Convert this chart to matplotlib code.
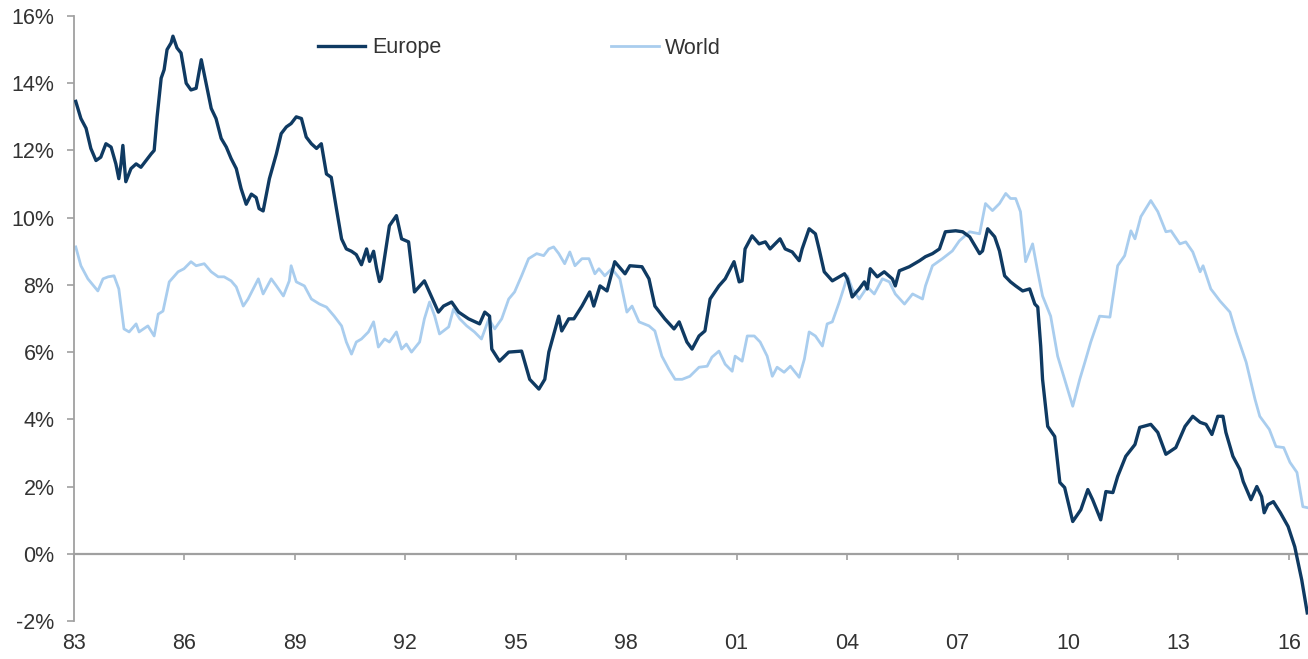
import matplotlib.pyplot as plt
from matplotlib.ticker import FuncFormatter

plt.rcParams["font.family"] = ["Liberation Sans", "DejaVu Sans"]

# values (decimal year, % y/y)
europe_year = [
    1983.05, 1983.19, 1983.33, 1983.46, 1983.60, 1983.73, 1983.82, 1983.87, 1984.01, 1984.14,
    1984.22, 1984.28, 1984.33, 1984.41, 1984.55, 1984.69, 1984.82, 1984.96, 1985.10, 1985.18,
    1985.26, 1985.37, 1985.45, 1985.53, 1985.64, 1985.69, 1985.80, 1985.91, 1986.05, 1986.18,
    1986.32, 1986.46, 1986.59, 1986.73, 1986.86, 1987.00, 1987.14, 1987.27, 1987.41, 1987.54,
    1987.68, 1987.82, 1987.95, 1988.03, 1988.14, 1988.31, 1988.50, 1988.63, 1988.77, 1988.90,
    1989.04, 1989.18, 1989.31, 1989.45, 1989.59, 1989.72, 1989.86, 1989.99, 1990.13, 1990.27,
    1990.40, 1990.54, 1990.67, 1990.81, 1990.95, 1991.03, 1991.14, 1991.22, 1991.30, 1991.35,
    1991.57, 1991.76, 1991.90, 1992.09, 1992.25, 1992.52, 1992.90, 1993.04, 1993.26, 1993.45,
    1993.72, 1994.02, 1994.16, 1994.29, 1994.35, 1994.56, 1994.81, 1995.16, 1995.38, 1995.63,
    1995.79, 1995.90, 1996.17, 1996.25, 1996.44, 1996.58, 1996.80, 1997.01, 1997.12, 1997.29,
    1997.48, 1997.69, 1997.97, 1998.10, 1998.43, 1998.62, 1998.78, 1999.05, 1999.30, 1999.44,
    1999.65, 1999.79, 1999.98, 2000.14, 2000.28, 2000.52, 2000.69, 2000.93, 2001.07, 2001.15,
    2001.23, 2001.42, 2001.61, 2001.78, 2001.91, 2002.18, 2002.32, 2002.51, 2002.70, 2002.78,
    2002.97, 2003.14, 2003.24, 2003.38, 2003.60, 2003.79, 2003.93, 2004.01, 2004.14, 2004.33,
    2004.47, 2004.55, 2004.63, 2004.82, 2005.01, 2005.23, 2005.31, 2005.42, 2005.69, 2005.97,
    2006.13, 2006.32, 2006.51, 2006.67, 2006.95, 2007.14, 2007.33, 2007.60, 2007.68, 2007.82,
    2008.01, 2008.14, 2008.28, 2008.44, 2008.58, 2008.77, 2008.96, 2009.10, 2009.18, 2009.26,
    2009.31, 2009.45, 2009.64, 2009.78, 2009.91, 2010.13, 2010.35, 2010.54, 2010.67, 2010.89,
    2011.03, 2011.22, 2011.35, 2011.57, 2011.82, 2011.95, 2012.25, 2012.44, 2012.66, 2012.93,
    2013.18, 2013.39, 2013.59, 2013.75, 2013.91, 2014.07, 2014.21, 2014.29, 2014.48, 2014.67,
    2014.76, 2014.97, 2015.13, 2015.26, 2015.33, 2015.43, 2015.58, 2015.77, 2015.98, 2016.16,
    2016.35, 2016.50,
]
europe_val = [
    13.46, 12.95, 12.66, 12.06, 11.70, 11.80, 12.06, 12.20, 12.10, 11.60,
    11.16, 11.60, 12.15, 11.07, 11.46, 11.60, 11.50, 11.70, 11.90, 12.00,
    13.00, 14.15, 14.40, 15.00, 15.20, 15.40, 15.05, 14.90, 14.00, 13.80,
    13.85, 14.70, 14.00, 13.25, 12.95, 12.36, 12.10, 11.76, 11.46, 10.87,
    10.40, 10.70, 10.60, 10.27, 10.20, 11.16, 11.90, 12.50, 12.70, 12.80,
    13.00, 12.95, 12.40, 12.20, 12.06, 12.20, 11.30, 11.20, 10.27, 9.37,
    9.07, 9.00, 8.90, 8.60, 9.07, 8.70, 9.00, 8.50, 8.10, 8.18,
    9.76, 10.06, 9.37, 9.28, 7.79, 8.12, 7.19, 7.37, 7.49, 7.19,
    6.99, 6.84, 7.19, 7.07, 6.09, 5.73, 6.00, 6.03, 5.19, 4.90,
    5.19, 6.00, 7.07, 6.63, 6.99, 6.99, 7.37, 7.79, 7.37, 7.97,
    7.82, 8.69, 8.33, 8.57, 8.54, 8.18, 7.37, 6.99, 6.69, 6.90,
    6.30, 6.09, 6.48, 6.63, 7.58, 7.97, 8.18, 8.69, 8.09, 8.12,
    9.07, 9.46, 9.22, 9.28, 9.07, 9.37, 9.07, 8.98, 8.72, 9.07,
    9.67, 9.52, 9.07, 8.39, 8.12, 8.24, 8.33, 8.18, 7.64, 7.88,
    8.09, 7.88, 8.48, 8.24, 8.39, 8.18, 7.97, 8.42, 8.54, 8.72,
    8.84, 8.93, 9.07, 9.58, 9.61, 9.58, 9.43, 8.93, 9.01, 9.67,
    9.43, 9.01, 8.27, 8.09, 7.97, 7.82, 7.88, 7.43, 7.34, 6.18,
    5.19, 3.79, 3.49, 2.12, 1.97, 0.96, 1.31, 1.91, 1.61, 1.01,
    1.85, 1.82, 2.30, 2.90, 3.25, 3.76, 3.85, 3.61, 2.96, 3.16,
    3.79, 4.09, 3.91, 3.85, 3.55, 4.09, 4.09, 3.61, 2.90, 2.51,
    2.15, 1.61, 2.00, 1.70, 1.22, 1.46, 1.55, 1.22, 0.81, 0.21,
    -0.78, -1.76,
]

world_year = [
    1983.05, 1983.19, 1983.38, 1983.65, 1983.79, 1983.93, 1984.09, 1984.22, 1984.36, 1984.50,
    1984.69, 1984.77, 1985.01, 1985.18, 1985.29, 1985.42, 1985.59, 1985.83, 1985.99, 1986.18,
    1986.32, 1986.54, 1986.73, 1986.92, 1987.08, 1987.27, 1987.41, 1987.60, 1987.73, 1988.01,
    1988.14, 1988.36, 1988.50, 1988.69, 1988.85, 1988.90, 1989.04, 1989.26, 1989.45, 1989.67,
    1989.86, 1990.07, 1990.27, 1990.40, 1990.54, 1990.67, 1990.81, 1991.00, 1991.14, 1991.27,
    1991.44, 1991.57, 1991.76, 1991.90, 1992.03, 1992.17, 1992.39, 1992.52, 1992.66, 1992.80,
    1992.93, 1993.18, 1993.31, 1993.48, 1993.67, 1993.88, 1994.07, 1994.27, 1994.43, 1994.62,
    1994.81, 1994.97, 1995.16, 1995.35, 1995.57, 1995.76, 1995.90, 1996.03, 1996.17, 1996.33,
    1996.47, 1996.61, 1996.80, 1996.99, 1997.15, 1997.26, 1997.42, 1997.61, 1997.83, 1998.02,
    1998.16, 1998.35, 1998.62, 1998.78, 1998.97, 1999.16, 1999.33, 1999.52, 1999.73, 1999.98,
    2000.20, 2000.33, 2000.52, 2000.69, 2000.88, 2000.96, 2001.15, 2001.29, 2001.48, 2001.64,
    2001.83, 2001.97, 2002.10, 2002.29, 2002.46, 2002.70, 2002.84, 2002.97, 2003.14, 2003.33,
    2003.46, 2003.60, 2003.79, 2003.93, 2004.01, 2004.14, 2004.33, 2004.55, 2004.74, 2004.96,
    2005.15, 2005.31, 2005.56, 2005.78, 2006.05, 2006.13, 2006.32, 2006.59, 2006.86, 2007.05,
    2007.33, 2007.60, 2007.76, 2007.95, 2008.14, 2008.31, 2008.44, 2008.58, 2008.71, 2008.85,
    2009.04, 2009.18, 2009.31, 2009.53, 2009.72, 2009.91, 2010.13, 2010.32, 2010.46, 2010.62,
    2010.86, 2011.14, 2011.35, 2011.54, 2011.71, 2011.82, 2011.98, 2012.25, 2012.44, 2012.66,
    2012.80, 2013.04, 2013.20, 2013.39, 2013.59, 2013.67, 2013.88, 2014.13, 2014.40, 2014.56,
    2014.84, 2015.08, 2015.21, 2015.47, 2015.65, 2015.86, 2016.03, 2016.22, 2016.38, 2016.51,
]
world_val = [
    9.13, 8.57, 8.18, 7.82, 8.18, 8.24, 8.27, 7.88, 6.69, 6.60,
    6.84, 6.60, 6.78, 6.48, 7.13, 7.22, 8.09, 8.39, 8.48, 8.69,
    8.57, 8.63, 8.39, 8.24, 8.24, 8.12, 7.94, 7.37, 7.58, 8.18,
    7.73, 8.18, 7.97, 7.67, 8.12, 8.57, 8.09, 7.97, 7.58, 7.43,
    7.34, 7.07, 6.78, 6.30, 5.94, 6.30, 6.39, 6.60, 6.90, 6.15,
    6.39, 6.30, 6.60, 6.09, 6.24, 6.00, 6.30, 6.99, 7.49, 7.07,
    6.54, 6.75, 7.28, 6.99, 6.78, 6.60, 6.39, 6.99, 6.69, 6.99,
    7.58, 7.79, 8.27, 8.78, 8.93, 8.87, 9.07, 9.13, 8.93, 8.63,
    8.98, 8.57, 8.78, 8.78, 8.33, 8.48, 8.27, 8.48, 8.18, 7.19,
    7.37, 6.90, 6.78, 6.63, 5.88, 5.49, 5.19, 5.19, 5.28, 5.55,
    5.58, 5.85, 6.03, 5.64, 5.43, 5.88, 5.73, 6.48, 6.48, 6.30,
    5.88, 5.28, 5.55, 5.40, 5.58, 5.25, 5.79, 6.60, 6.48, 6.18,
    6.84, 6.90, 7.49, 7.97, 8.27, 7.88, 7.58, 7.94, 7.73, 8.18,
    8.09, 7.73, 7.43, 7.73, 7.58, 7.97, 8.57, 8.78, 9.01, 9.31,
    9.58, 9.52, 10.42, 10.21, 10.42, 10.72, 10.57, 10.57, 10.18, 8.69,
    9.22, 8.39, 7.67, 7.07, 5.88, 5.19, 4.39, 5.19, 5.70, 6.30,
    7.07, 7.04, 8.57, 8.87, 9.61, 9.37, 10.03, 10.51, 10.18, 9.58,
    9.61, 9.22, 9.28, 8.98, 8.39, 8.57, 7.88, 7.52, 7.19, 6.60,
    5.70, 4.60, 4.09, 3.70, 3.19, 3.16, 2.72, 2.42, 1.40, 1.37,
]

year_ticks = list(range(1983, 2017, 3))
pct_ticks = list(range(-2, 17, 2))

text_color = "#333333"
axis_color = "#a0a0a0"

fig = plt.figure(figsize=(13.08, 6.59), dpi=100)
ax = fig.add_axes([0.0565, 0.0577, 0.9435, 0.918])

ax.plot(world_year, world_val, color="#a9cdee", lw=2.0, label="World", zorder=2)
ax.plot(europe_year, europe_val, color="#0f3a62", lw=2.4, label="Europe", zorder=3)

ax.set_xlim(1983, 2016.52)
ax.set_ylim(-2, 16)
ax.set_yticks(pct_ticks)
ax.yaxis.set_major_formatter(FuncFormatter(lambda v, _: f"{v:.0f}%"))
ax.set_xticks(year_ticks)
ax.xaxis.set_major_formatter(FuncFormatter(lambda v, _: f"{int(v) % 100:02d}"))

for side in ("top", "right", "bottom"):
    ax.spines[side].set_visible(False)
ax.spines["left"].set_color(axis_color)
ax.spines["left"].set_linewidth(1.3)
ax.tick_params(axis="y", direction="out", length=5, width=1.2, color=axis_color,
               pad=9, labelsize=15.5, labelcolor=text_color)
ax.tick_params(axis="x", length=0, pad=9, labelsize=15.5, labelcolor=text_color)

# zero line carrying the year tick marks
zero_frac = (0 - (-2)) / (16 - (-2))
sec = ax.secondary_xaxis(zero_frac)
sec.set_xticks(year_ticks)
sec.tick_params(axis="x", direction="out", length=4, width=1.2, color=axis_color,
                labelbottom=False, labeltop=False)
sec.spines["bottom"].set_color(axis_color)
sec.spines["bottom"].set_linewidth(1.6)
sec.spines["top"].set_visible(False)

handles, labels = ax.get_legend_handles_labels()
order = [1, 0]
ax.legend([handles[i] for i in order], [labels[i] for i in order],
          loc="center left", bbox_to_anchor=(318 / 1308, 1 - 48 / 659),
          bbox_transform=fig.transFigure, ncol=2, frameon=False,
          fontsize=15.5, handlelength=2.2, handletextpad=0.3, columnspacing=7.9,
          borderpad=0, borderaxespad=0, labelcolor=text_color)

fig.savefig("out.png", dpi=100)
plt.close(fig)
